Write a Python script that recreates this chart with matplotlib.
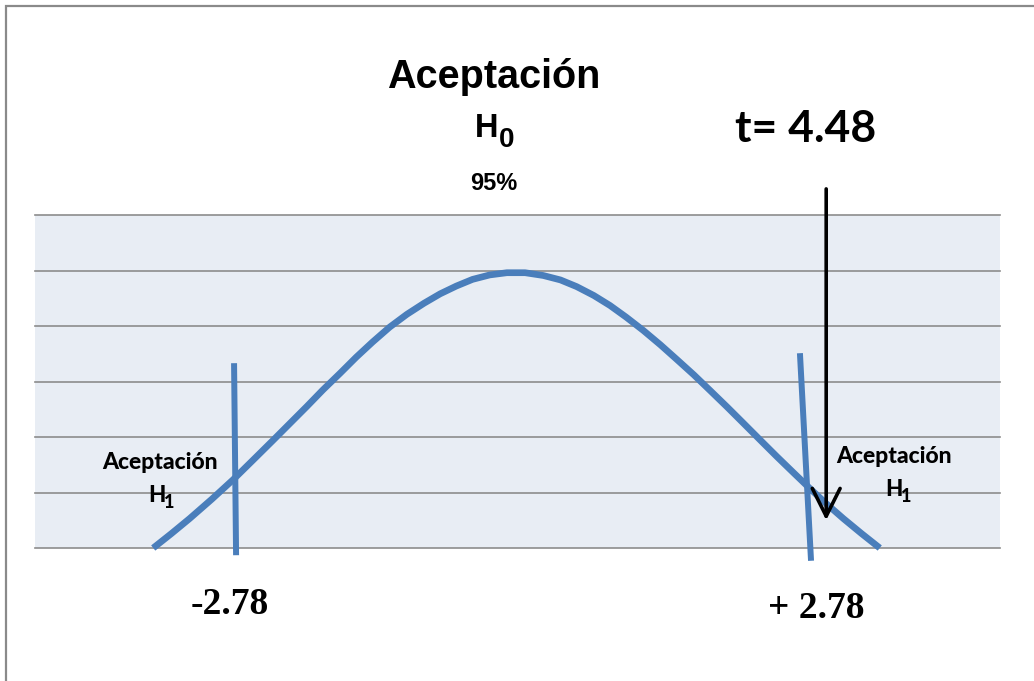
import matplotlib
matplotlib.use("Agg")
import matplotlib.pyplot as plt
from matplotlib.patches import Rectangle

# curve (x in t units, y in grid units)
curve_x = [-3.58, -3.40, -3.22, -3.00, -2.79, -2.60, -2.40, -2.23, -2.06, -1.90,
           -1.73, -1.57, -1.41, -1.24, -1.07, -0.90, -0.74, -0.58, -0.42, -0.25,
           -0.08, 0.10, 0.28, 0.45, 0.61, 0.78, 0.94, 1.10, 1.27, 1.44,
           1.60, 1.77, 1.93, 2.10, 2.26, 2.43, 2.59, 2.76, 2.92, 3.08,
           3.25, 3.43, 3.61]
curve_y = [0.00, 0.26, 0.53, 0.88, 1.23, 1.57, 1.93, 2.24, 2.55, 2.85,
           3.15, 3.44, 3.71, 3.98, 4.21, 4.41, 4.58, 4.72, 4.84, 4.92,
           4.96, 4.96, 4.91, 4.83, 4.71, 4.55, 4.37, 4.16, 3.92, 3.66,
           3.40, 3.12, 2.84, 2.54, 2.25, 1.94, 1.65, 1.35, 1.07, 0.80,
           0.53, 0.26, 0.00]

# critical value markers (slightly tilted hand-drawn lines)
left_line_x = [-2.78, -2.76]
left_line_y = [3.33, -0.13]
right_line_x = [2.82, 2.93]
right_line_y = [3.51, -0.23]

grid_levels = [0, 1, 2, 3, 4, 5, 6]

t_value_label = "t= 4.48"
arrow_x = 3.08
arrow_top = 6.47
arrow_tip = 0.50

crit_labels = ["-2.78", "+ 2.78"]

W, H = 1034, 681
BLUE = "#4a7ebb"

fig = plt.figure(figsize=(W / 100, H / 100), dpi=100)
fig.patch.set_facecolor("white")


def fx(x):
    return x / W


def fy(y):
    return 1 - y / H


# outer gray frame (runs off the right and bottom edge)
fig.patches.append(Rectangle((fx(6), -0.05), 1.1, fy(6) + 0.05, transform=fig.transFigure,
                             fill=False, edgecolor="#8a8a8a", linewidth=1.6))

ax = fig.add_axes([fx(35), fy(548), (1000 - 35) / W, (548 - 215) / H])
ax.set_facecolor("#e8edf4")
ax.set_xlim(-4.75, 4.80)
ax.set_ylim(0, 6)
for s in ax.spines.values():
    s.set_visible(False)
ax.set_xticks([])
ax.set_yticks([])

for g in grid_levels:
    ax.axhline(g, color="#8c8c8c", linewidth=1.2, clip_on=False, zorder=1)

ax.plot(curve_x, curve_y, color=BLUE, linewidth=4.8, solid_capstyle="butt",
        solid_joinstyle="round", zorder=3, clip_on=False)
ax.plot(left_line_x, left_line_y, color=BLUE, linewidth=4.3, solid_capstyle="butt",
        zorder=3, clip_on=False)
ax.plot(right_line_x, right_line_y, color=BLUE, linewidth=4.3, solid_capstyle="butt",
        zorder=3, clip_on=False)

ax.annotate("", xy=(arrow_x, arrow_tip), xytext=(arrow_x, arrow_top),
            arrowprops=dict(arrowstyle="->,head_length=1.0,head_width=0.5",
                            lw=2.6, color="black", mutation_scale=20,
                            shrinkA=0, shrinkB=0),
            annotation_clip=False, zorder=5)

# central texts
fig.text(fx(494), fy(88), "Aceptación", family="Liberation Sans", weight="bold",
         fontsize=28.5, ha="center", va="baseline")
fig.text(fx(475), fy(137), "H", family="Liberation Sans", weight="bold", fontsize=23.5,
         ha="left", va="baseline")
fig.text(fx(499), fy(147), "0", family="Liberation Sans", weight="bold", fontsize=20,
         ha="left", va="baseline")
fig.text(fx(494), fy(190), "95%", family="Liberation Sans", weight="bold", fontsize=17,
         ha="center", va="baseline")

fig.text(fx(806), fy(142), t_value_label, family="Lato", weight="bold", fontsize=32,
         ha="center", va="baseline")

# rejection region labels
for cx, base, hx in [(160, 469, 148), (894, 463, 885)]:
    fig.text(fx(cx), fy(base), "Aceptación", family="Lato", weight=900, fontsize=16.5,
             ha="center", va="baseline")
    fig.text(fx(hx), fy(base + 33), "H", family="Lato", weight=900, fontsize=16,
             ha="left", va="baseline")
    fig.text(fx(hx + 16), fy(base + 39), "1", family="Lato", weight=900, fontsize=13,
             ha="left", va="baseline")

fig.text(fx(230), fy(614), crit_labels[0], family="Liberation Serif", weight="bold",
         fontsize=27, ha="center", va="baseline")
fig.text(fx(816), fy(618), crit_labels[1], family="Liberation Serif", weight="bold",
         fontsize=27, ha="center", va="baseline")

fig.savefig("out.png", dpi=100)
